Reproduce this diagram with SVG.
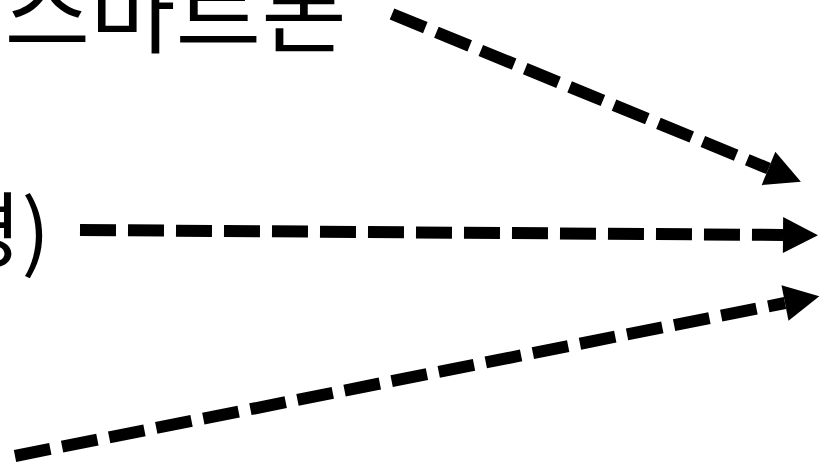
<svg xmlns="http://www.w3.org/2000/svg" width="820" height="467" viewBox="0 0 820 467">
  <style>
    .lbl { font-family: "Noto Sans CJK KR", "Noto Sans", sans-serif; font-size: 84px; fill: #000; }
    .big { font-size: 93px; }
    .edge { fill: none; stroke: #000; stroke-width: 12; stroke-dasharray: 36 12; stroke-linecap: butt; }
  </style>
  <defs>
    <marker id="ah" markerUnits="userSpaceOnUse" markerWidth="36" markerHeight="36" refX="0" refY="18" orient="auto" overflow="visible">
      <path d="M0,0 L35,18 L0,36 z" fill="#000"/>
    </marker>
  </defs>
  <rect width="820" height="467" fill="#fff"/>
  <g id="node-smartphone">
    <text class="lbl big" x="4.5" y="45.5">스마트폰</text>
  </g>
  <g id="node-env">
    <text class="lbl" x="50" y="262" text-anchor="end">경)</text>
  </g>
  <g id="connectors">
    <line class="edge" x1="392" y1="14" x2="768.5" y2="168.5" marker-end="url(#ah)"/>
    <line class="edge" x1="80" y1="230" x2="783" y2="235" marker-end="url(#ah)"/>
    <line class="edge" x1="15" y1="456" x2="785" y2="303" marker-end="url(#ah)"/>
  </g>
</svg>
